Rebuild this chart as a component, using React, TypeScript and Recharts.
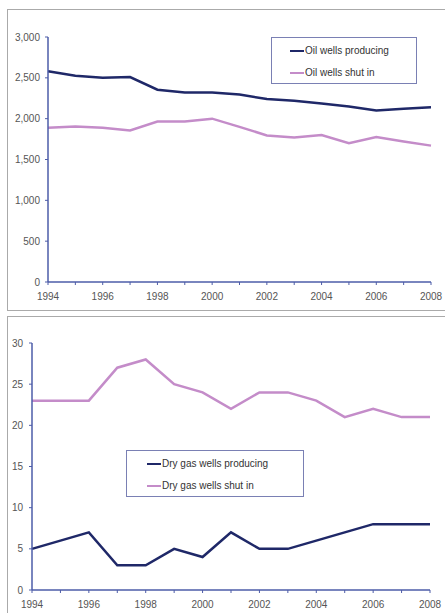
import React from 'react';
import { LineChart, Line, XAxis, YAxis, Legend } from 'recharts';

const years = [1994, 1995, 1996, 1997, 1998, 1999, 2000, 2001, 2002, 2003, 2004, 2005, 2006, 2007, 2008];
const oilProducing = [2580, 2525, 2500, 2510, 2355, 2320, 2320, 2295, 2240, 2220, 2185, 2150, 2100, 2120, 2140];
const oilShutIn = [1890, 1905, 1890, 1855, 1965, 1965, 2000, 1900, 1795, 1770, 1800, 1700, 1775, 1720, 1670];
const gasProducing = [5, 6, 7, 3, 3, 5, 4, 7, 5, 5, 6, 7, 8, 8, 8];
const gasShutIn = [23, 23, 23, 27, 28, 25, 24, 22, 24, 24, 23, 21, 22, 21, 21];
const oilTicks = [0, 500, 1000, 1500, 2000, 2500, 3000];
const gasTicks = [0, 5, 10, 15, 20, 25, 30];

const oilData = years.map((y, i) => ({ year: y, producing: oilProducing[i], shutIn: oilShutIn[i] }));
const gasData = years.map((y, i) => ({ year: y, producing: gasProducing[i], shutIn: gasShutIn[i] }));

const NAVY = '#1f2868';
const PINK = '#c48cc9';
const AXIS = '#4d5ca8';
const FONT = 'Liberation Sans, Arial, sans-serif';

const tickStyle = { fontSize: 10, fill: '#555', fontFamily: FONT };

const makeLegend = (padL: number, w: number) => (props: any) => {
  const { payload } = props;
  return (
    <div style={{ border: '1px solid #7a80b4', background: '#fff', boxSizing: 'border-box', width: w, height: 47, paddingTop: 2 }}>
      {(payload || []).map((p: any, i: number) => (
        <div key={i} style={{ display: 'flex', alignItems: 'center', height: 22, paddingLeft: padL }}>
          <div style={{ width: 14, height: 2, background: p.color }} />
          <span style={{ fontFamily: FONT, fontSize: 10, color: '#333', marginLeft: 1, lineHeight: '12px' }}>{p.value}</span>
        </div>
      ))}
    </div>
  );
};

const yearFmt = (v: number) => (v % 2 === 0 ? String(v) : '');

export default function App() {
  return (
    <div style={{ position: 'absolute', left: 0, top: 0, width: 445, height: 613, overflow: 'hidden', background: '#fff' }}>
      <div style={{ position: 'absolute', left: 7, top: 9, width: 445, height: 302, border: '1px solid #aaa', boxSizing: 'border-box' }} />
      <div style={{ position: 'absolute', left: 7, top: 316, width: 445, height: 320, border: '1px solid #aaa', boxSizing: 'border-box' }} />
      <div style={{ position: 'absolute', left: 0, top: 0 }}>
        <LineChart width={445} height={311} data={oilData} margin={{ top: 37, right: 14, left: 8, bottom: 9 }}>
          <XAxis dataKey="year" type="number" domain={[1994, 2008]} ticks={years} tickFormatter={yearFmt}
            interval={0} tick={tickStyle} tickSize={3} tickMargin={8} height={20}
            axisLine={{ stroke: AXIS, strokeWidth: 1.5 }} tickLine={{ stroke: AXIS }} />
          <YAxis domain={[0, 3000]} ticks={oilTicks} tickFormatter={(v: number) => v.toLocaleString('en-US')}
            tick={tickStyle} tickSize={3} tickMargin={5} width={40}
            axisLine={{ stroke: AXIS, strokeWidth: 1.5 }} tickLine={{ stroke: AXIS }} />
          <Legend layout="vertical" align="center" verticalAlign="middle" content={makeLegend(18, 146)}
            wrapperStyle={{ left: 271, top: 37, width: 146, height: 47 }} />
          <Line dataKey="producing" name="Oil wells producing" stroke={NAVY} strokeWidth={2.5} dot={false} isAnimationActive={false} />
          <Line dataKey="shutIn" name="Oil wells shut in" stroke={PINK} strokeWidth={2.5} dot={false} isAnimationActive={false} />
        </LineChart>
      </div>
      <div style={{ position: 'absolute', left: 0, top: 311 }}>
        <LineChart width={445} height={302} data={gasData} margin={{ top: 32, right: 15, left: 8, bottom: 3 }}>
          <XAxis dataKey="year" type="number" domain={[1994, 2008]} ticks={years} tickFormatter={yearFmt}
            interval={0} tick={tickStyle} tickSize={3} tickMargin={8} height={20}
            axisLine={{ stroke: AXIS, strokeWidth: 1.5 }} tickLine={{ stroke: AXIS }} />
          <YAxis domain={[0, 30]} ticks={gasTicks} tick={tickStyle} tickSize={3} tickMargin={6} width={24}
            axisLine={{ stroke: AXIS, strokeWidth: 1.5 }} tickLine={{ stroke: AXIS }} />
          <Legend layout="vertical" align="center" verticalAlign="middle" content={makeLegend(20, 178)}
            wrapperStyle={{ left: 126, top: 139, width: 178, height: 47 }} />
          <Line dataKey="producing" name="Dry gas wells producing" stroke={NAVY} strokeWidth={2.5} dot={false} isAnimationActive={false} />
          <Line dataKey="shutIn" name="Dry gas wells shut in" stroke={PINK} strokeWidth={2.5} dot={false} isAnimationActive={false} />
        </LineChart>
      </div>
    </div>
  );
}
